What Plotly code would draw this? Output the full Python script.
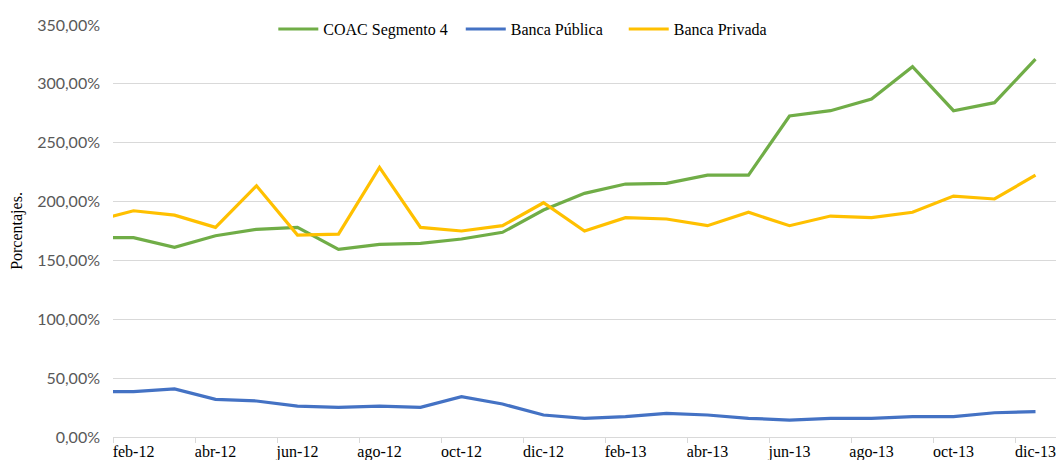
import plotly.graph_objects as go

# Months (ene-12 is only partly visible at the clipped left edge)
months = ["ene-12", "feb-12", "mar-12", "abr-12", "may-12", "jun-12", "jul-12", "ago-12",
          "sep-12", "oct-12", "nov-12", "dic-12", "ene-13", "feb-13", "mar-13", "abr-13",
          "may-13", "jun-13", "jul-13", "ago-13", "sep-13", "oct-13", "nov-13", "dic-13"]

coac_seg4 = [169.3, 169.3, 161.1, 171.0, 176.4, 178.1, 159.4, 163.7, 164.5, 168.2, 173.9, 192.8,
             207.0, 214.9, 215.5, 222.5, 222.5, 272.7, 277.2, 287.1, 314.6, 277.2, 284.0, 321.0]
banca_publica = [38.5, 38.5, 40.8, 32.0, 30.6, 26.3, 25.2, 26.3, 25.2, 34.2, 28.0, 18.7,
                 15.9, 17.3, 20.1, 18.7, 15.9, 14.4, 15.9, 15.9, 17.3, 17.3, 20.6, 21.5]
banca_privada = [183.2, 192.2, 188.5, 178.1, 213.4, 171.5, 172.4, 229.0, 178.1, 175.0, 179.5, 199.0,
                 175.0, 186.3, 185.2, 179.5, 190.9, 179.5, 187.7, 186.3, 190.9, 204.7, 202.2, 222.5]

y_ticks = [0, 50, 100, 150, 200, 250, 300, 350]
y_ticktext = ["0,00%", "50,00%", "100,00%", "150,00%", "200,00%", "250,00%", "300,00%", "350,00%"]

series = [
    ("COAC Segmento 4", coac_seg4, "#70AD47", "\u00a0\u00a0"),
    ("Banca Pública", banca_publica, "#4472C4", "\u00a0\u00a0\u00a0\u00a0"),
    ("Banca Privada", banca_privada, "#FFC000", ""),
]

x = list(range(len(months)))
fig = go.Figure()
for name, vals, color, pad in series:
    fig.add_trace(go.Scatter(
        x=x, y=vals, name=name + pad, mode="lines",
        line=dict(color=color, width=3.2),
        hovertemplate="%{text}: %{y:.2f}%<extra>" + name + "</extra>",
        text=months,
    ))

label_idx = list(range(1, len(months), 2))
boundaries = [i - 0.5 for i in range(1, len(months) + 1, 2)]

fig.update_layout(
    width=1060, height=460,
    margin=dict(l=113, r=4, t=25, b=23),
    paper_bgcolor="white", plot_bgcolor="white",
    showlegend=True,
    legend=dict(
        orientation="h", x=0.170, xanchor="left", y=0.99, yanchor="middle",
        font=dict(family="Liberation Serif", size=16, color="#000000"),
        bgcolor="rgba(0,0,0,0)", itemwidth=40, tracegroupgap=0,
    ),
    xaxis=dict(
        range=[0.5, len(months) - 0.5],
        tickmode="array", tickvals=label_idx, ticktext=[months[i] for i in label_idx],
        ticks="", showgrid=False, zeroline=False,
        showline=True, linecolor="#d9d9d9", linewidth=1,
        tickfont=dict(family="Liberation Serif", size=16, color="#000000"),
        minor=dict(tickmode="array", tickvals=boundaries, ticks="outside", ticklen=5,
                   tickcolor="#d9d9d9", tickwidth=1, showgrid=False),
        automargin=False, fixedrange=True,
    ),
    yaxis=dict(
        range=[0, 350],
        tickmode="array", tickvals=y_ticks, ticktext=y_ticktext,
        showgrid=True, gridcolor="#d9d9d9", gridwidth=1, zeroline=False,
        showline=False, ticks="",
        tickfont=dict(family="Lato", size=16, color="#595959"),
        ticklabelstandoff=12,
        title=dict(text="Porcentajes.", font=dict(family="Liberation Serif", size=16, color="#000000"),
                   standoff=10),
        automargin=False, fixedrange=True,
    ),
)

fig.write_html("out.html", config={"displayModeBar": False},
               post_script="document.body.style.margin='0';")
